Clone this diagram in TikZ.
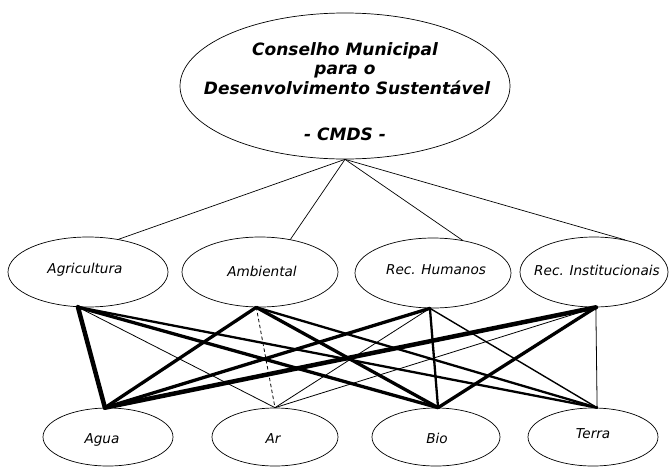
\documentclass[tikz,border=0pt]{standalone}
\usepackage{fontspec}
\setmainfont{DejaVu Sans}
\usetikzlibrary{shapes.geometric}
\begin{document}
\begin{tikzpicture}[x=1pt,y=-1pt,
  box/.style={draw, ellipse, line width=0.7pt, inner sep=0pt},
  council/.style={box, minimum width=330pt, minimum height=146pt},
  areabox/.style={box, minimum height=70pt},
  elembox/.style={box, minimum height=58pt},
  tagtext/.style={inner sep=0pt, font=\fontsize{13.6}{16}\selectfont\itshape},
  toptext/.style={anchor=base, inner sep=0pt,
    font=\fontsize{17}{20}\selectfont\bfseries\itshape},
  tie/.style={line width=0.7pt},
  hairline/.style={line width=0.8pt},
  light/.style={line width=1.4pt},
  medium/.style={line width=2.3pt},
  heavy/.style={line width=3.3pt},
  heaviest/.style={line width=4.5pt},
  line cap=round, line join=round]

\useasboundingbox (0,0) rectangle (669,466);

% council
\node[council] (cmds) at (345,86) {};
\node[toptext] (t1) at (345,55) {Conselho Municipal};
\node[toptext] (t2) at (345,74) {para o};
\node[toptext] (t3) at (347,94) {Desenvolvimento Sustentável};
\node[toptext] (t4) at (345,140) {- CMDS -};

% areas
\node[areabox, minimum width=160pt] (agr) at (88,272) {};
\node[areabox, minimum width=156pt] (amb) at (260,272) {};
\node[areabox, minimum width=156pt] (rh)  at (433,273) {};
\node[areabox, minimum width=148pt] (ri)  at (594,272) {};
\node[tagtext] (agrL) at (85,270) {Agricultura};
\node[tagtext] (ambL) at (262,271) {Ambiental};
\node[tagtext] (rhL)  at (436,270) {Rec. Humanos};
\node[tagtext] (riL)  at (597,270) {Rec. Institucionais};

% elements
\node[elembox, minimum width=130pt] (agua)  at (108,437) {};
\node[elembox, minimum width=126pt] (ar)    at (275,437) {};
\node[elembox, minimum width=128pt] (bio)   at (436,437) {};
\node[elembox, minimum width=130pt] (terra) at (593,437) {};
\node[tagtext] (aguaL)  at (102,440) {Agua};
\node[tagtext] (arL)    at (273,439) {Ar};
\node[tagtext] (bioL)   at (437,438) {Bio};
\node[tagtext] (terraL) at (593,434) {Terra};

% hubs where the connectors meet
\coordinate (apex) at (cmds.south);
\coordinate (agrT) at (agr.47);
\coordinate (ambT) at (amb.47);
\coordinate (rhT)  at (rh.48);
\coordinate (riT)  at (ri.46);
\coordinate (agrB) at (agr.-106);
\coordinate (ambB) at (amb.-96);
\coordinate (rhB)  at (rh.-95);
\coordinate (riB)  at (ri.-87);
\coordinate (aguaT)  at (agua.96);
\coordinate (arT)    at (ar.north);
\coordinate (bioT)   at (bio.86);
\coordinate (terraT) at (terra.82);

% council to areas
\draw[tie] (apex) -- (agrT);
\draw[tie] (apex) -- (ambT);
\draw[tie] (apex) -- (rhT);
\draw[tie] (apex) -- (riT);

% areas to elements
\draw[heaviest] (agrB) -- (aguaT);
\draw[hairline] (agrB) -- (arT);
\draw[heavy]    (agrB) -- (bioT);
\draw[medium]   (agrB) -- (terraT);

\draw[heavy]    (ambB) -- (aguaT);
\draw[hairline, dashed] (ambB) -- (arT);
\draw[heavy]    (ambB) -- (bioT);
\draw[medium]   (ambB) -- (terraT);

\draw[heavy]    (rhB) -- (aguaT);
\draw[hairline] (rhB) -- (arT);
\draw[medium]   (rhB) -- (bioT);
\draw[light]    (rhB) -- (terraT);

\draw[heaviest] (riB) -- (aguaT);
\draw[hairline] (riB) -- (arT);
\draw[heavy]    (riB) -- (bioT);
\draw[hairline] (riB) -- (terraT);
\end{tikzpicture}
\end{document}
